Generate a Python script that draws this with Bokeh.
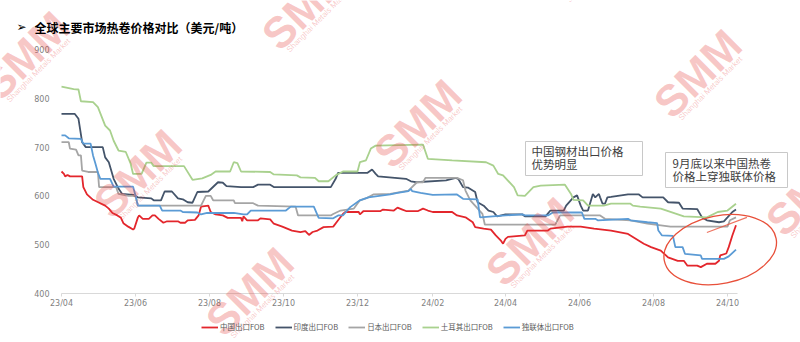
import math
from datetime import datetime, timedelta
import pandas as pd
from bokeh.plotting import figure
from bokeh.models import (Range1d, FixedTicker, DatetimeTickFormatter, Legend,
                          LegendItem, Label, ColumnDataSource)
from bokeh.embed import file_html
from bokeh.resources import INLINE

# ---------------- data ----------------
TITLE = "全球主要市场热卷价格对比（美元/吨）"
series_names = ["中国出口FOB", "印度出口FOB", "日本出口FOB", "土耳其出口FOB", "独联体出口FOB"]
series_colors = ["#e3262c", "#44546a", "#a5a5a5", "#a9d18e", "#5b9bd5"]
x_ticks = ["2023-04-01", "2023-06-01", "2023-08-01", "2023-10-01", "2023-12-01",
           "2024-02-01", "2024-04-01", "2024-06-01", "2024-08-01", "2024-10-01"]
y_ticks = [400, 500, 600, 700, 800, 900]

china_dates = [
    "2023-04-01", "2023-04-03", "2023-04-04", "2023-04-06", "2023-04-08", "2023-04-18", "2023-04-19", "2023-04-22", "2023-04-27", "2023-05-03",
    "2023-05-07", "2023-05-10", "2023-05-13", "2023-05-17", "2023-05-20", "2023-05-22", "2023-05-26", "2023-05-30", "2023-05-31", "2023-06-03",
    "2023-06-04", "2023-06-07", "2023-06-12", "2023-06-15", "2023-06-17", "2023-06-20", "2023-06-24", "2023-06-27", "2023-07-06", "2023-07-08",
    "2023-07-12", "2023-07-14", "2023-07-20", "2023-07-23", "2023-07-25", "2023-07-31", "2023-08-02", "2023-08-06", "2023-08-12", "2023-08-16",
    "2023-08-27", "2023-08-28", "2023-08-29", "2023-09-01", "2023-09-10", "2023-09-12", "2023-09-20", "2023-09-23", "2023-09-30", "2023-10-08",
    "2023-10-15", "2023-10-19", "2023-10-22", "2023-10-25", "2023-10-29", "2023-11-03", "2023-11-11", "2023-11-15", "2023-11-19", "2023-11-21",
    "2023-12-02", "2023-12-03", "2023-12-06", "2023-12-20", "2023-12-22", "2023-12-31", "2024-01-03", "2024-01-07", "2024-01-10", "2024-01-20",
    "2024-01-24", "2024-01-28", "2024-02-01", "2024-02-17", "2024-02-21", "2024-02-28", "2024-03-05", "2024-03-07", "2024-03-14", "2024-03-20",
    "2024-03-24", "2024-03-28", "2024-03-30", "2024-04-01", "2024-04-03", "2024-04-17", "2024-04-19", "2024-05-06", "2024-05-08", "2024-05-22",
    "2024-06-02", "2024-06-13", "2024-06-27", "2024-07-11", "2024-07-24", "2024-07-30", "2024-08-07", "2024-08-13", "2024-08-21", "2024-08-26",
    "2024-08-29", "2024-09-06", "2024-09-09", "2024-09-14", "2024-09-21", "2024-09-24", "2024-09-25", "2024-09-30", "2024-10-02", "2024-10-05",
    "2024-10-08"]
china_fob = [
    650, 645, 640, 643, 640, 640, 618, 603, 592, 585,
    580, 574, 565, 560, 555, 544, 537, 531, 533, 556,
    560, 553, 553, 560, 560, 553, 545, 548, 548, 545,
    545, 550, 551, 560, 578, 580, 567, 562, 560, 555,
    555, 548, 558, 550, 550, 554, 552, 543, 537, 529,
    526, 528, 520, 526, 529, 536, 537, 550, 563, 567,
    567, 562, 569, 569, 572, 570, 576, 572, 569, 569,
    574, 570, 567, 567, 560, 556, 546, 536, 533, 531,
    519, 509, 502, 512, 516, 519, 529, 529, 533, 537,
    537, 533, 529, 522, 502, 495, 488, 474, 467, 467,
    457, 457, 454, 461, 461, 467, 478, 482, 495, 519,
    540]

india_dates = [
    "2023-04-01", "2023-04-12", "2023-04-15", "2023-04-18", "2023-04-21", "2023-05-05", "2023-05-07", "2023-05-10", "2023-05-14", "2023-05-18",
    "2023-05-21", "2023-05-30", "2023-06-03", "2023-06-14", "2023-06-16", "2023-06-22", "2023-06-25", "2023-07-01", "2023-07-06", "2023-07-10",
    "2023-07-14", "2023-07-18", "2023-07-22", "2023-07-31", "2023-08-08", "2023-08-12", "2023-08-15", "2023-08-27", "2023-09-06", "2023-09-10",
    "2023-09-20", "2023-09-23", "2023-11-09", "2023-11-13", "2023-11-15", "2023-12-09", "2023-12-13", "2023-12-16", "2023-12-18", "2024-01-10",
    "2024-01-14", "2024-01-18", "2024-02-12", "2024-02-20", "2024-02-22", "2024-02-26", "2024-03-01", "2024-03-07", "2024-03-09", "2024-03-14",
    "2024-03-18", "2024-03-22", "2024-03-25", "2024-04-01", "2024-04-15", "2024-04-17", "2024-05-04", "2024-05-08", "2024-05-19", "2024-05-21",
    "2024-05-27", "2024-05-30", "2024-06-02", "2024-06-04", "2024-06-08", "2024-06-12", "2024-06-14", "2024-06-17", "2024-06-18", "2024-06-20",
    "2024-06-22", "2024-06-24", "2024-06-27", "2024-07-11", "2024-07-20", "2024-07-23", "2024-08-09", "2024-08-13", "2024-08-22", "2024-08-25",
    "2024-09-06", "2024-09-10", "2024-09-14", "2024-09-24", "2024-09-28", "2024-10-01", "2024-10-05", "2024-10-08"]
india_fob = [
    768, 768, 758, 710, 700, 700, 679, 669, 635, 615,
    604, 602, 597, 595, 591, 591, 609, 609, 595, 593,
    587, 586, 608, 609, 628, 627, 620, 618, 618, 623,
    623, 618, 618, 635, 647, 647, 654, 645, 640, 635,
    630, 628, 632, 637, 635, 618, 617, 608, 587, 580,
    570, 567, 558, 562, 562, 558, 558, 570, 570, 580,
    597, 601, 580, 570, 570, 604, 597, 604, 597, 584,
    584, 597, 598, 603, 603, 597, 597, 587, 586, 574,
    573, 556, 550, 546, 548, 556, 567, 572]

japan_dates = [
    "2023-04-01", "2023-04-07", "2023-04-08", "2023-04-13", "2023-04-15", "2023-04-17", "2023-04-18", "2023-04-23", "2023-05-01", "2023-05-02",
    "2023-05-16", "2023-05-18", "2023-05-26", "2023-06-01", "2023-06-03", "2023-07-25", "2023-07-29", "2023-08-02", "2023-08-04", "2023-08-21",
    "2023-08-22", "2023-09-06", "2023-09-10", "2023-10-11", "2023-10-13", "2023-11-09", "2023-11-11", "2023-11-17", "2023-11-28", "2023-12-03",
    "2023-12-09", "2023-12-14", "2023-12-28", "2024-01-12", "2024-01-19", "2024-01-24", "2024-01-26", "2024-02-21", "2024-02-26", "2024-02-28",
    "2024-03-03", "2024-03-13", "2024-03-15", "2024-05-12", "2024-05-16", "2024-06-18", "2024-06-22", "2024-07-13", "2024-07-27", "2024-08-15",
    "2024-10-01", "2024-10-03", "2024-10-08"]
japan_fob = [
    710, 710, 697, 695, 683, 683, 652, 649, 649, 618,
    618, 604, 600, 600, 580, 580, 600, 600, 591, 591,
    585, 585, 580, 578, 560, 560, 563, 570, 574, 591,
    596, 603, 604, 611, 628, 628, 637, 637, 632, 611,
    591, 563, 541, 541, 560, 560, 553, 550, 543, 537,
    537, 550, 556]

turkey_dates = [
    "2023-04-01", "2023-04-11", "2023-04-15", "2023-04-17", "2023-04-27", "2023-05-01", "2023-05-07", "2023-05-11", "2023-05-14", "2023-05-18",
    "2023-05-24", "2023-05-28", "2023-05-30", "2023-06-06", "2023-06-10", "2023-06-14", "2023-06-16", "2023-07-11", "2023-07-18", "2023-07-26",
    "2023-08-02", "2023-08-06", "2023-08-18", "2023-08-21", "2023-08-24", "2023-08-27", "2023-09-20", "2023-09-23", "2023-10-12", "2023-10-15",
    "2023-10-27", "2023-10-30", "2023-11-07", "2023-11-13", "2023-11-19", "2023-12-01", "2023-12-03", "2023-12-08", "2023-12-12", "2023-12-16",
    "2024-01-24", "2024-01-28", "2024-02-17", "2024-03-16", "2024-03-22", "2024-03-26", "2024-03-30", "2024-04-08", "2024-04-11", "2024-04-17",
    "2024-04-24", "2024-04-30", "2024-05-20", "2024-05-25", "2024-05-27", "2024-06-04", "2024-06-08", "2024-06-21", "2024-06-27", "2024-07-13",
    "2024-07-15", "2024-07-21", "2024-08-07", "2024-08-26", "2024-09-14", "2024-09-23", "2024-10-01", "2024-10-08"]
turkey_fob = [
    824, 819, 818, 794, 792, 782, 744, 734, 713, 693,
    690, 666, 645, 645, 668, 668, 661, 661, 633, 636,
    643, 650, 650, 669, 667, 650, 649, 644, 642, 638,
    637, 630, 630, 642, 650, 650, 669, 673, 697, 703,
    705, 676, 673, 669, 662, 645, 642, 618, 601, 600,
    618, 621, 623, 604, 592, 591, 580, 580, 584, 584,
    580, 578, 574, 558, 556, 567, 570, 584]

cis_dates = [
    "2023-04-01", "2023-04-04", "2023-04-07", "2023-04-17", "2023-04-19", "2023-04-25", "2023-04-27", "2023-04-29", "2023-05-01", "2023-05-03",
    "2023-05-11", "2023-05-14", "2023-05-30", "2023-06-01", "2023-06-03", "2023-06-21", "2023-06-23", "2023-07-08", "2023-07-10", "2023-07-22",
    "2023-07-25", "2023-07-30", "2023-08-21", "2023-08-29", "2023-09-01", "2023-09-04", "2023-10-03", "2023-10-07", "2023-10-26", "2023-10-30",
    "2023-11-11", "2023-11-15", "2023-11-19", "2023-11-25", "2023-12-03", "2023-12-10", "2023-12-28", "2024-01-03", "2024-01-12", "2024-01-14",
    "2024-01-15", "2024-01-22", "2024-02-01", "2024-02-21", "2024-02-26", "2024-03-09", "2024-03-11", "2024-04-01", "2024-04-15", "2024-04-17",
    "2024-05-06", "2024-05-10", "2024-06-03", "2024-06-05", "2024-06-14", "2024-06-16", "2024-07-11", "2024-07-13", "2024-07-27", "2024-08-04",
    "2024-08-05", "2024-08-08", "2024-08-17", "2024-08-19", "2024-08-25", "2024-08-27", "2024-09-09", "2024-09-10", "2024-09-28", "2024-10-02",
    "2024-10-08"]
cis_fob = [
    724, 724, 718, 717, 707, 707, 683, 666, 648, 635,
    635, 619, 619, 601, 580, 580, 570, 570, 567, 566,
    562, 565, 565, 562, 562, 570, 570, 578, 578, 555,
    554, 560, 560, 577, 591, 597, 603, 606, 610, 614,
    610, 606, 602, 603, 594, 593, 556, 560, 562, 560,
    560, 566, 566, 553, 553, 550, 553, 550, 546, 544,
    529, 519, 518, 495, 495, 481, 478, 471, 471, 476,
    490]

series_dates = [china_dates, india_dates, japan_dates, turkey_dates, cis_dates]
series_values = [china_fob, india_fob, japan_fob, turkey_fob, cis_fob]

NOTE_1 = ["中国钢材出口价格", "优势明显"]
NOTE_2 = ["9月底以来中国热卷", "价格上穿独联体价格"]
CIRCLE_DATE, CIRCLE_PRICE = "2024-09-25", 490
TAIL_DATES, TAIL_PRICES = ["2024-09-14", "2024-10-17"], [525, 556]

# ---------------- layout ----------------
W, H = 800, 342
# the plot frame covers the whole canvas; the axes sit at fixed data locations
X0 = datetime(2023, 4, 1)          # left end of the x axis
X0_PX = 61                          # its pixel column
PX_PER_DAY = 74 / 61
Y_TOP_PX, Y_BOT_PX = 49, 293        # pixel rows of 900 and 400
PX_PER_UNIT = (Y_BOT_PX - Y_TOP_PX) / 500.0

x_start = X0 - timedelta(days=X0_PX / PX_PER_DAY)
x_end = X0 + timedelta(days=(W - X0_PX) / PX_PER_DAY)
y_start = 400 - (H - Y_BOT_PX) / PX_PER_UNIT
y_end = 900 + Y_TOP_PX / PX_PER_UNIT


def fxy(px, py):
    """canvas pixel (from top-left) -> screen coords (from bottom-left)"""
    return px, H - py


def ms(d):
    return pd.Timestamp(d).value // 10**6


def px_to_x(px):
    return ms(X0) + (px - X0_PX) / PX_PER_DAY * 86400000.0


def py_to_y(py):
    return 900 - (py - Y_TOP_PX) / PX_PER_UNIT


p = figure(width=W, height=H, output_backend="svg", toolbar_location=None,
           x_axis_type="datetime",
           x_range=Range1d(x_start, x_end), y_range=Range1d(y_start, y_end),
           min_border=0, min_border_left=0, min_border_right=0,
           min_border_top=0, min_border_bottom=0)
p.background_fill_color = "white"
p.border_fill_color = "white"
p.outline_line_color = None
p.xgrid.visible = False
p.ygrid.visible = False

renderers = []
for name, col, d, v in zip(series_names, series_colors, series_dates, series_values):
    src = ColumnDataSource(dict(x=pd.to_datetime(d), y=v))
    r = p.line("x", "y", source=src, line_color=col, line_width=1.8)
    renderers.append(r)

# axes
xa = p.xaxis[0]
xa.fixed_location = 400
xa.ticker = FixedTicker(ticks=[ms(t) for t in x_ticks])
fmt = "%y/%m"
xa.formatter = DatetimeTickFormatter(microseconds=fmt, milliseconds=fmt, seconds=fmt,
                                     minsec=fmt, minutes=fmt, hourmin=fmt, hours=fmt,
                                     days=fmt, months=fmt, years=fmt)
xa.bounds = (ms("2023-04-01"), ms("2024-10-09"))
xa.axis_line_color = "#d9d9d9"
xa.major_tick_line_color = "#d9d9d9"
xa.major_tick_in = 0
xa.major_tick_out = 3
xa.minor_tick_line_color = None
xa.major_label_standoff = 2
xa.major_label_text_font = "DejaVu Sans"
xa.major_label_text_font_size = "8px"
xa.major_label_text_color = "#7f7f7f"

ya = p.yaxis[0]
ya.fixed_location = ms(X0)
ya.ticker = FixedTicker(ticks=y_ticks)
ya.bounds = (400, 900)
ya.axis_line_color = None
ya.major_tick_line_color = None
ya.minor_tick_line_color = None
ya.major_label_standoff = 6
ya.major_label_text_font = "DejaVu Sans"
ya.major_label_text_font_size = "8px"
ya.major_label_text_color = "#7f7f7f"

# legend
legend = Legend(items=[LegendItem(label=n, renderers=[r]) for n, r in zip(series_names, renderers)],
                location=fxy(201, 332), orientation="horizontal",
                border_line_color=None, background_fill_alpha=0,
                padding=0, margin=0, spacing=10, glyph_width=17, glyph_height=10,
                label_height=10, label_standoff=2,
                label_text_font="Noto Sans CJK SC", label_text_font_size="7.5px",
                label_text_color="#595959")
p.add_layout(legend)

# hand drawn ellipse highlight
p.ellipse(x=pd.to_datetime([CIRCLE_DATE]), y=[CIRCLE_PRICE], width=114, height=68,
          width_units="screen", height_units="screen", angle=0.2,
          fill_color=None, line_color="#e8503a", line_width=1.3)
p.line(x=pd.to_datetime(TAIL_DATES), y=TAIL_PRICES, line_color="#e8503a",
       line_width=1.1, line_alpha=0.8)

# note boxes: bordered box (pixel rectangle) + one label per text line
boxes = [(NOTE_1, (525, 141, 642, 175), 531, [142, 155]),
         (NOTE_2, (665, 152, 787, 187), 672, [154, 167])]
p.quad(left=[px_to_x(bx[1][0]) for bx in boxes],
       right=[px_to_x(bx[1][2]) for bx in boxes],
       top=[py_to_y(bx[1][1]) for bx in boxes],
       bottom=[py_to_y(bx[1][3]) for bx in boxes],
       fill_color="white", line_color="#c8c8c8", line_width=1)
for lines, _, txp, tops in boxes:
    for line, typ in zip(lines, tops):
        lx, ly = fxy(txp, typ)
        p.add_layout(Label(x=lx, y=ly, x_units="screen", y_units="screen", text=line,
                           text_font="Noto Sans CJK SC", text_font_size="11.5px",
                           text_color="#404040",
                           text_baseline="top", text_align="left"))

# watermarks
base = (25, 55)
a = (112, 118)
b = (280, -50)
for i, j in [(0, 0), (0, 1), (0, 2), (1, 0), (1, 1), (1, 2), (2, 0), (2, 1), (2, 2)]:
    cx = base[0] + i * a[0] + j * b[0]
    cy = base[1] + i * a[1] + j * b[1]
    wx, wy = fxy(cx, cy)
    p.add_layout(Label(x=wx, y=wy, x_units="screen", y_units="screen", text="SMM",
                       angle=math.radians(45), text_font="Liberation Sans",
                       text_font_style="bold", text_font_size="44px",
                       text_color="#e53935", text_alpha=0.28,
                       text_align="center", text_baseline="middle"))
    sx, sy = fxy(cx + 13, cy + 15)
    p.add_layout(Label(x=sx, y=sy, x_units="screen", y_units="screen",
                       text="Shanghai Metals Market",
                       angle=math.radians(45), text_font="Liberation Sans",
                       text_font_size="8px",
                       text_color="#e53935", text_alpha=0.28,
                       text_align="center", text_baseline="middle"))

# title
bx, by = fxy(16, 26.5)
p.add_layout(Label(x=bx, y=by, x_units="screen", y_units="screen", text="➢",
                   text_font="DejaVu Sans", text_font_size="12px", text_color="black",
                   text_font_style="bold",
                   text_baseline="middle", text_align="left"))
tx, ty = fxy(34, 26.5)
p.add_layout(Label(x=tx, y=ty, x_units="screen", y_units="screen", text=TITLE,
                   text_font="Noto Sans CJK SC", text_font_size="12px",
                   text_font_style="bold", text_color="black",
                   text_baseline="middle", text_align="left"))

open("out.html", "w").write(file_html(p, INLINE))
